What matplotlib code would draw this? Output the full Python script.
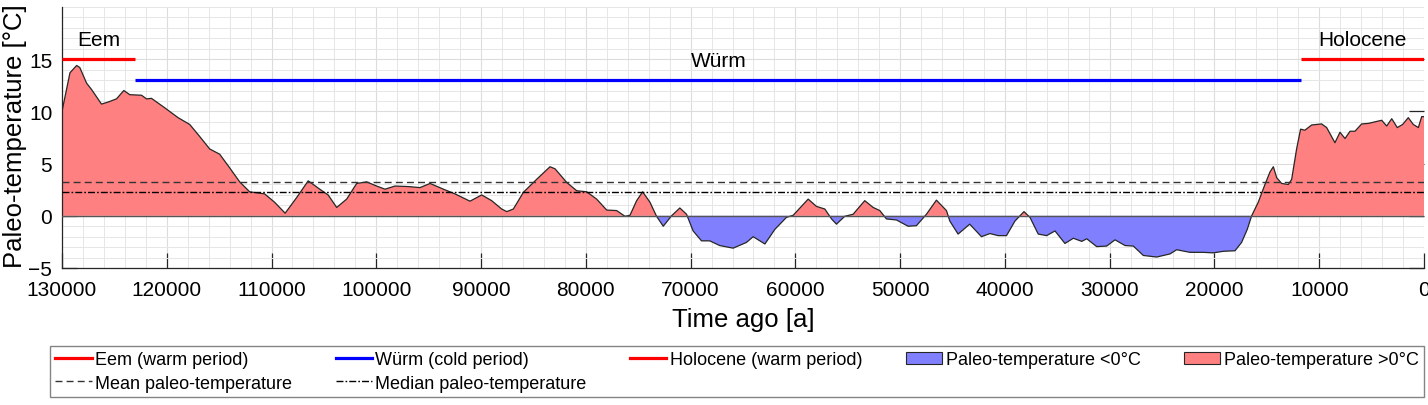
import matplotlib
matplotlib.use("Agg")
import matplotlib.pyplot as plt
import matplotlib.ticker as ticker
from matplotlib.lines import Line2D
from matplotlib.patches import Patch
import numpy as np

plt.rcParams['font.family'] = ['Liberation Sans', 'DejaVu Sans']

TICK_SIZE = 15
LABEL_SIZE = 18.5
LEGEND_SIZE = 13
PERIOD_SIZE = 15

# Paleo-temperature record (years ago, deg C)
ages = [130000, 129240, 128600, 128300, 127650, 127180, 126230, 125590, 124800, 124100,
        123530, 122410, 121940, 121460, 120200, 118920, 117810, 116860, 115900, 114950,
        114000, 113040, 112090, 110660, 109710, 108700, 107600, 106500, 105400, 104600,
        103780, 102830, 101870, 100920, 99970, 99170, 98220, 96940, 95830, 94870,
        93600, 92490, 91060, 89940, 88990, 88030, 87550, 86920, 85960, 84690,
        83420, 82940, 81830, 80870, 79920, 78970, 78010, 77060, 76260, 75790,
        75150, 74580, 73880, 73250, 72610, 71820, 71030, 70390, 69760, 68960,
        68170, 67220, 65940, 64670, 64030, 62910, 61960, 60850, 60210, 58780,
        57990, 57190, 56550, 56080, 55290, 54490, 53380, 52580, 51940, 51310,
        50350, 49240, 48450, 47490, 46540, 45580, 45260, 44470, 43360, 42240,
        41430, 40650, 39850, 39040, 38180, 37610, 36820, 36020, 35220, 34270,
        33470, 32670, 32190, 31240, 30290, 29490, 28530, 27740, 26790, 25510,
        24240, 23610, 22340, 21070, 20110, 19160, 18040, 17410, 16870, 16450,
        15820, 15180, 14700, 14380, 14060, 13590, 12950, 12630, 12160, 11780,
        11370, 10720, 9770, 9290, 8500, 8020, 7540, 7060, 6590, 5950,
        5310, 4680, 4040, 3560, 3080, 2550, 2040, 1500, 1020, 540, 220, 0]
temps = [10.0, 13.7, 14.4, 14.2, 12.7, 12.1, 10.7, 10.9, 11.2, 12.0,
         11.6, 11.55, 11.2, 11.25, 10.35, 9.4, 8.75, 7.6, 6.4, 5.9,
         4.6, 3.25, 2.3, 2.1, 1.3, 0.25, 1.75, 3.35, 2.55, 2.0,
         0.8, 1.6, 3.1, 3.25, 2.85, 2.55, 2.85, 2.8, 2.7, 3.1,
         2.55, 2.1, 1.4, 2.0, 1.45, 0.65, 0.4, 0.65, 2.25, 3.5,
         4.7, 4.5, 3.2, 2.4, 2.3, 1.6, 0.55, 0.5, -0.05, 0.05,
         1.45, 2.3, 1.3, -0.05, -1.0, 0.0, 0.75, 0.15, -1.45, -2.4,
         -2.4, -2.85, -3.1, -2.55, -2.0, -2.7, -1.3, -0.15, 0.05, 1.6,
         0.9, 0.65, -0.3, -0.8, -0.05, 0.15, 1.45, 0.8, 0.5, -0.3,
         -0.4, -1.0, -0.95, 0.15, 1.5, 0.5, -0.5, -1.75, -0.8, -2.0,
         -1.7, -1.9, -1.9, -0.5, 0.4, -0.15, -1.75, -1.9, -1.45, -2.65,
         -2.15, -2.45, -2.2, -2.95, -2.9, -2.3, -2.85, -2.9, -3.8, -3.95,
         -3.65, -3.25, -3.5, -3.5, -3.55, -3.4, -3.35, -2.55, -1.3, 0.0,
         1.3, 3.0, 4.2, 4.7, 3.65, 3.1, 3.0, 3.5, 6.4, 8.3,
         8.2, 8.7, 8.8, 8.45, 7.0, 8.0, 7.4, 8.1, 8.1, 8.8,
         8.85, 9.0, 9.15, 8.6, 9.3, 8.45, 8.75, 9.4, 8.75, 8.45, 9.5, 9.5]

mean_temp = 3.2
median_temp = 2.3

# Periods
period_names = ["Eem", "Würm", "Holocene"]
period_start = [130000, 123000, 11700]
period_end = [123000, 11700, 0]
period_level = [15, 13, 15]
period_colors = ["#FF0000", "#0000FF", "#FF0000"]
period_labels = ["Eem (warm period)", "Würm (cold period)", "Holocene (warm period)"]

RED_FILL = "#FF8080"
BLUE_FILL = "#8080FF"
EDGE = "#262626"

x = np.array(ages, dtype=float)
y = np.array(temps)

fig = plt.figure(figsize=(14.28, 4.06), dpi=100)
ax = fig.add_axes([62 / 1428, 1 - 269 / 406, (1424 - 62) / 1428, (269 - 8) / 406])

ax.fill_between(x, y, 0, where=y >= 0, interpolate=True, color=RED_FILL, lw=0, zorder=2)
ax.fill_between(x, y, 0, where=y <= 0, interpolate=True, color=BLUE_FILL, lw=0, zorder=2)
ax.plot(x, y, color=EDGE, lw=0.9, zorder=3)
ax.axhline(0, color="#555555", lw=1.0, zorder=3)

ax.axhline(mean_temp, color="#333333", lw=1.0, dashes=(5, 3), zorder=4)
ax.axhline(median_temp, color="black", lw=1.0, dashes=(5, 1.5, 1.2, 1.5), zorder=4)

for name, s, e, lev, col in zip(period_names, period_start, period_end, period_level, period_colors):
    ax.plot([s, e], [lev, lev], color=col, lw=2.3, solid_capstyle='butt', zorder=5)
    ax.text((s + e) / 2, lev + 1.9, name, ha='center', va='center', fontsize=PERIOD_SIZE)

ax.set_xlim(130000, 0)
ax.set_ylim(-5, 20)
ax.xaxis.set_major_locator(ticker.MultipleLocator(10000))
ax.xaxis.set_minor_locator(ticker.MultipleLocator(2000))
ax.xaxis.set_major_formatter(ticker.FuncFormatter(lambda v, p: f"{int(round(v))}"))
ax.set_yticks([-5, 0, 5, 10, 15])
ax.yaxis.set_minor_locator(ticker.MultipleLocator(1))

ax.set_axisbelow(True)
ax.grid(which='major', color="#dcdcdc", lw=0.8)
ax.grid(which='minor', color="#e6e6e6", lw=0.7)

ax.tick_params(which='major', direction='in', length=11, width=0.9, color=EDGE,
               right=True, top=False, labelsize=TICK_SIZE)
ax.tick_params(axis='x', pad=9)
ax.tick_params(axis='y', pad=7)
ax.tick_params(which='minor', length=0)
for side in ['left', 'bottom']:
    ax.spines[side].set_color(EDGE)
    ax.spines[side].set_linewidth(0.9)
ax.spines['top'].set_visible(False)
ax.spines['right'].set_visible(False)

ax.set_xlabel("Time ago [a]", fontsize=LABEL_SIZE, va='top')
ax.set_ylabel("Paleo-temperature [°C]", fontsize=LABEL_SIZE)
ax.xaxis.set_label_coords(0.5, -0.148)
ax.yaxis.set_label_coords(-0.026, 0.51)

handles = [
    Line2D([], [], color=period_colors[0], lw=2.3),
    Line2D([], [], color="#333333", lw=1.0, dashes=(5, 3)),
    Line2D([], [], color=period_colors[1], lw=2.3),
    Line2D([], [], color="black", lw=1.0, dashes=(5, 1.5, 1.2, 1.5)),
    Line2D([], [], color=period_colors[2], lw=2.3),
    Patch(facecolor=BLUE_FILL, edgecolor=EDGE, lw=0.8),
    Patch(facecolor=RED_FILL, edgecolor=EDGE, lw=0.8),
]
labels = [period_labels[0], "Mean paleo-temperature", period_labels[1],
          "Median paleo-temperature", period_labels[2],
          "Paleo-temperature <0°C", "Paleo-temperature >0°C"]
leg = fig.legend(handles, labels, loc='upper left', ncol=5, mode='expand',
                 bbox_to_anchor=(50 / 1428, 1 - 400 / 406, (1424 - 50) / 1428, 53 / 406),
                 prop={'size': LEGEND_SIZE},
                 handlelength=2.0, handletextpad=0.2, borderaxespad=0,
                 fancybox=False, frameon=True, borderpad=0.3, labelspacing=0.35,
                 columnspacing=0.4)
leg.get_frame().set_edgecolor("#666666")
leg.get_frame().set_linewidth(1.0)

fig.savefig("out.png", dpi=100)
